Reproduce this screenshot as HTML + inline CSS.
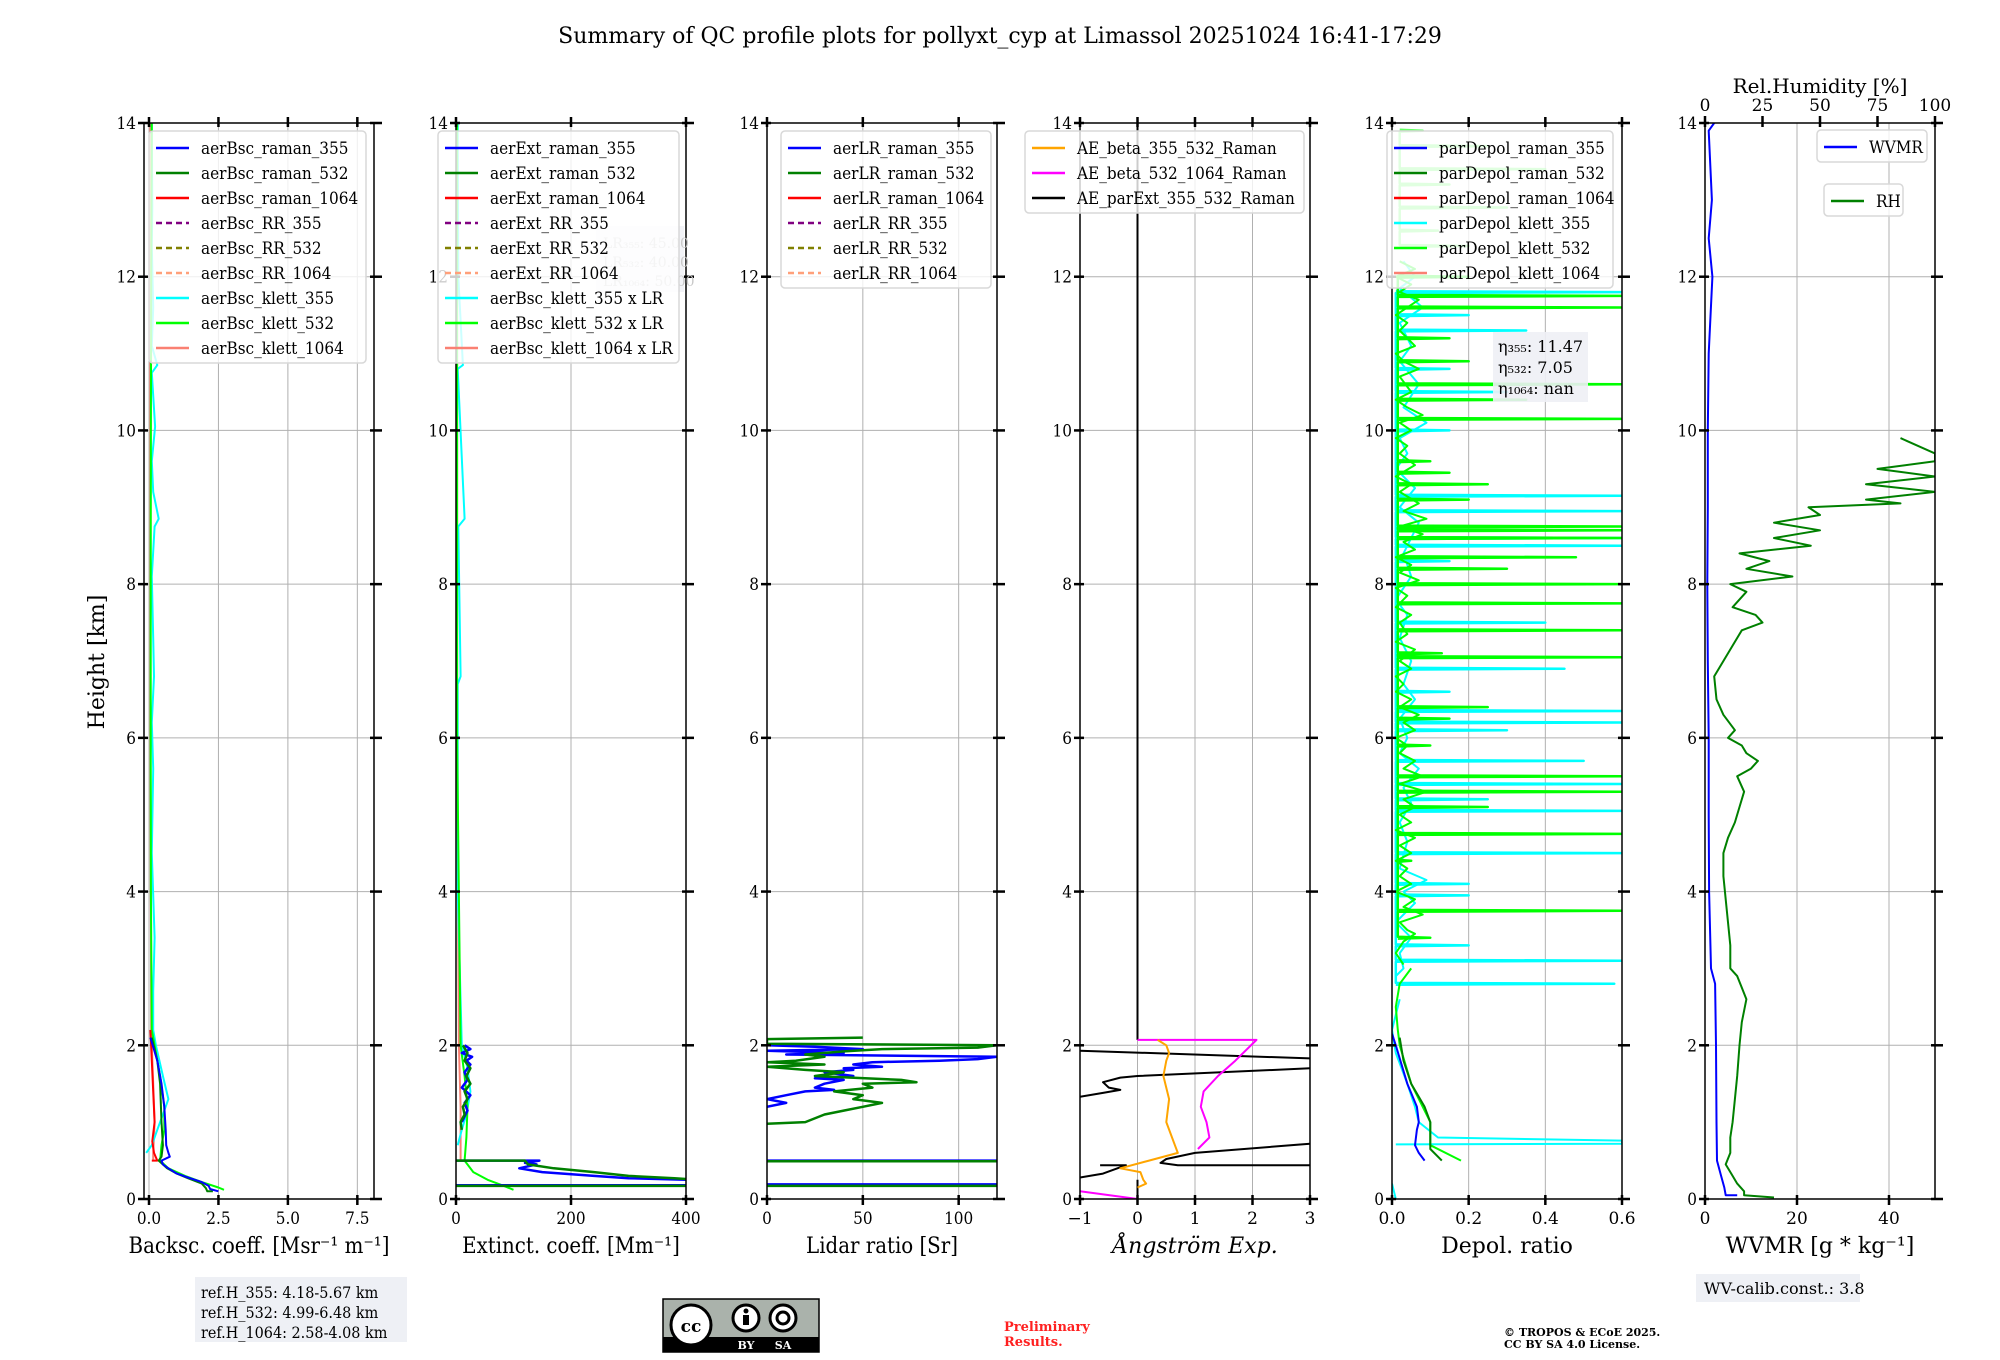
<!DOCTYPE html>
<html><head><meta charset="utf-8"><style>
html,body{margin:0;padding:0;background:#fff;}
svg{display:block;}
text{font-family:"DejaVu Serif","Liberation Serif",serif;}
.c{font-stretch:condensed;}
</style></head><body>
<svg id="fig" width="2000" height="1360" viewBox="0 0 2000 1360" xmlns="http://www.w3.org/2000/svg">
<rect width="2000" height="1360" fill="#fff"/>
<text x="1000" y="43" font-size="22" text-anchor="middle">Summary of QC profile plots for pollyxt_cyp at Limassol 20251024 16:41-17:29</text>
<text x="104" y="662" font-size="22" text-anchor="middle" transform="rotate(-90 104 662)">Height [km]</text>
<g id="plots"></g>
<g>
<rect x="195" y="1277" width="212" height="65" fill="#eef0f5"/>
<text x="201" y="1298" font-size="16" class="c">ref.H_355: 4.18-5.67 km</text>
<text x="201" y="1318" font-size="16" class="c">ref.H_532: 4.99-6.48 km</text>
<text x="201" y="1338" font-size="16" class="c">ref.H_1064: 2.58-4.08 km</text>
</g>
<g>
<rect x="663" y="1299" width="156" height="53" fill="#aab2ab" stroke="#000" stroke-width="1.5"/>
<rect x="663" y="1337" width="156" height="15" fill="#000"/>
<circle cx="691" cy="1325" r="20" fill="#fff" stroke="#000" stroke-width="3"/>
<text x="691" y="1332" font-size="17" font-weight="bold" text-anchor="middle" font-family="Liberation Sans,sans-serif">cc</text>
<circle cx="746" cy="1318" r="13" fill="#fff" stroke="#000" stroke-width="3"/>
<circle cx="746" cy="1311" r="2.5" fill="#000"/><rect x="743" y="1315" width="6" height="10" fill="#000"/>
<circle cx="783" cy="1318" r="13" fill="#fff" stroke="#000" stroke-width="3"/>
<circle cx="783" cy="1318" r="6" fill="none" stroke="#000" stroke-width="3"/>
<text x="746" y="1349" font-size="11" fill="#fff" font-weight="bold" text-anchor="middle" font-family="Liberation Sans,sans-serif">BY</text>
<text x="783" y="1349" font-size="11" fill="#fff" font-weight="bold" text-anchor="middle" font-family="Liberation Sans,sans-serif">SA</text>
</g>
<text x="1004" y="1331" font-size="13" font-weight="bold" fill="#ff2020">Preliminary</text>
<text x="1004" y="1346" font-size="13" font-weight="bold" fill="#ff2020">Results.</text>
<text x="1504" y="1336" font-size="11" font-weight="bold">© TROPOS &amp; ECoE 2025.</text>
<text x="1504" y="1348" font-size="11" font-weight="bold">CC BY SA 4.0 License.</text>
<g>
<rect x="1696" y="1274" width="164" height="28" fill="#eef0f5"/>
<text x="1704" y="1294" font-size="16">WV-calib.const.: 3.8</text>
</g>
</svg>
<script>
// ---------- data ----------
const heightTicks=[0,2,4,6,8,10,12,14];
const bscTicks=["0.0","2.5","5.0","7.5"]; const bscTickVals=[0,2.5,5,7.5];
const extTickVals=[0,200,400];
const lrTickVals=[0,50,100];
const aeTickVals=[-1,0,1,2,3]; const aeTickLabels=["\u22121","0","1","2","3"];
const depTickVals=[0,0.2,0.4,0.6]; const depTickLabels=["0.0","0.2","0.4","0.6"];
const wvTickVals=[0,20,40];
const rhTickVals=[0,25,50,75,100];
// panel 1 backscatter [height km, value]
const bscRaman355=[[2.1,0.05],[1.8,0.3],[1.5,0.45],[1.2,0.55],[0.9,0.6],[0.7,0.62],[0.6,0.7],[0.55,0.75],[0.5,0.45],[0.45,0.5],[0.4,0.7],[0.33,1.0],[0.28,1.4],[0.22,1.9],[0.17,2.15],[0.13,2.2],[0.1,2.5]];
const bscRaman532=[[2.1,0.1],[1.8,0.3],[1.5,0.4],[1.0,0.45],[0.7,0.5],[0.55,0.45],[0.5,0.35],[0.4,0.65],[0.33,1.0],[0.27,1.4],[0.2,1.9],[0.14,2.05],[0.1,2.1],[0.1,2.3]];
const bscRaman1064=[[2.2,0.05],[1.8,0.1],[1.4,0.15],[1.0,0.2],[0.75,0.12],[0.6,0.18],[0.5,0.3],[0.5,0.1]];
const bscKlett355=[[14,0.1],[12.9,0.12],[12.4,0.1],[11.6,0.15],[11.1,0.1],[10.85,0.3],[10.75,0.1],[10.05,0.22],[9.6,0.1],[9.2,0.15],[8.85,0.35],[8.75,0.2],[8.1,0.1],[7.3,0.15],[6.8,0.18],[6.2,0.1],[5.6,0.15],[4.5,0.1],[3.4,0.2],[2.7,0.15],[2.2,0.15],[2.0,0.25],[1.6,0.5],[1.3,0.7],[1.1,0.5],[0.9,0.3],[0.7,0.1],[0.6,-0.1]];
const bscKlett532=[[14,0.1],[12,0.08],[10,0.07],[8,0.06],[6,0.06],[4,0.07],[2.2,0.1],[2.0,0.2],[1.6,0.4],[1.2,0.55],[0.9,0.55],[0.7,0.45],[0.5,0.4],[0.4,0.7],[0.3,1.3],[0.22,1.9],[0.15,2.5],[0.12,2.7]];
const bscKlett1064=[[14,0.05],[10,0.05],[6,0.05],[2.2,0.08],[1.5,0.15],[1.0,0.2],[0.6,0.15],[0.5,0.15]];
// panel 2 extinction
const extRaman355=[[2.0,15],[1.95,25],[1.9,10],[1.85,28],[1.8,18],[1.75,25],[1.65,15],[1.55,20],[1.45,10],[1.35,25],[1.25,15],[1.15,20],[1.0,10],null,[0.5,0],[0.5,145],[0.47,120],[0.45,140],[0.4,110],[0.35,150],[0.3,240],[0.27,300],[0.25,400],null,[0.18,0],[0.18,400]];
const extRaman532=[[2.0,12],[1.9,20],[1.8,15],[1.7,25],[1.6,18],[1.5,25],[1.4,15],[1.3,20],[1.2,12],[1.1,15],[1.0,8],[0.9,10],null,[0.5,0],[0.5,120],[0.45,125],[0.4,170],[0.35,240],[0.3,300],[0.27,380],[0.26,400],null,[0.17,0],[0.17,400]];
const extKlett355=[[14,3],[12,4],[10.85,12],[10.8,3],[8.85,15],[8.75,4],[6.8,8],[6.7,3],[4,3],[2.0,10],[1.7,20],[1.4,25],[1.1,18],[0.9,10],[0.7,3]];
const extKlett532=[[14,2],[10,2],[6,2],[2.0,8],[1.6,15],[1.2,20],[0.8,18],[0.5,15],[0.35,30],[0.25,55],[0.18,80],[0.12,100]];
const extKlett1064=[[14,2],[6,2],[2.0,5],[1.2,8],[0.5,8]];
// panel 3 lidar ratio
const lr355=[[2.0,0],[1.98,25],[1.95,50],[1.93,0],[1.9,40],[1.88,10],[1.85,120],[1.82,110],[1.8,90],[1.78,55],[1.75,45],[1.72,60],[1.7,40],[1.68,45],[1.65,30],[1.6,45],[1.57,25],[1.55,40],[1.5,30],[1.45,25],[1.42,35],[1.4,20],[1.35,10],[1.3,0],[1.25,10],[1.2,0],null,[0.5,0],[0.5,120],null,[0.19,0],[0.19,120]];
const lr532=[[2.1,50],[2.08,0],[2.02,0],[2.0,120],[1.97,110],[1.95,60],[1.92,40],[1.88,20],[1.85,30],[1.8,15],[1.78,0],[1.75,30],[1.72,0],[1.68,20],[1.65,40],[1.6,25],[1.55,70],[1.52,78],[1.5,50],[1.45,55],[1.4,35],[1.35,50],[1.3,45],[1.25,60],[1.2,50],[1.15,40],[1.1,30],[1.0,20],[0.98,0],null,[0.49,0],[0.49,120],null,[0.17,0],[0.17,120]];
// panel 4 Angstrom
const aeParExt=[[14,0],[2.07,0],null,[1.93,-1],[1.83,3],null,[1.7,3],[1.6,0],[1.58,-0.3],[1.52,-0.6],[1.45,-0.5],[1.42,-0.3],[1.38,-0.6],[1.33,-1],null,[0.72,3],[0.6,1],[0.52,0.5],[0.47,0.4],[0.44,0.7],[0.44,3],null,[0.44,-0.65],[0.44,-0.2],[0.4,-0.35],[0.33,-0.6],[0.28,-1],null,[0.25,0],[0.05,0]];
const aeBeta532_1064=[[2.07,0],[2.07,2.07],[1.8,1.7],[1.6,1.4],[1.4,1.15],[1.2,1.1],[1.0,1.2],[0.8,1.25],[0.65,1.05],null,[0.1,-1],[0,0]];
const aeBeta355_532=[[2.07,0.35],[2.0,0.5],[1.9,0.55],[1.8,0.5],[1.6,0.45],[1.3,0.55],[1.0,0.5],[0.7,0.65],[0.6,0.7],[0.5,0.2],[0.4,-0.3],[0.35,0.05],[0.25,0.1],[0.2,0.15],[0.15,0.0]];
// panel 5 depol: spikes [height, value]
const depKlett532Spikes=[[12.0,0.2],[11.75,0.6],[11.6,0.6],[11.2,0.15],[10.9,0.2],[10.6,0.6],[10.4,0.35],[10.15,0.6],[9.6,0.1],[9.45,0.15],[9.3,0.25],[9.1,0.2],[8.75,0.6],[8.7,0.6],[8.6,0.6],[8.35,0.48],[8.2,0.3],[8.0,0.6],[7.75,0.6],[7.4,0.6],[7.1,0.13],[7.05,0.6],[6.4,0.25],[6.25,0.15],[5.9,0.1],[5.5,0.6],[5.3,0.6],[5.1,0.25],[4.75,0.6],[4.4,0.05],[3.75,0.6],[3.4,0.1]];
const depKlett355Spikes=[[11.8,0.6],[11.5,0.2],[11.3,0.35],[10.8,0.15],[10.5,0.3],[10.0,0.15],[9.15,0.6],[8.95,0.6],[8.6,0.6],[8.5,0.6],[8.3,0.15],[7.5,0.4],[6.9,0.45],[6.6,0.15],[6.35,0.6],[6.2,0.6],[6.1,0.3],[5.7,0.5],[5.4,0.6],[5.2,0.25],[5.05,0.6],[4.5,0.6],[4.1,0.2],[3.95,0.2],[3.3,0.2],[3.1,0.6],[2.8,0.58]];
const depTopSpikes=[[13.9,0.08],[13.7,0.25],[13.4,0.4],[13.2,0.15],[12.9,0.3],[12.6,0.12],[12.4,0.2]];
const depKlett532Noise=[[12.2,0.02],[12.1,0.06],[12.0,0.01],[11.9,0.05],[11.8,0.02],[11.7,0.07],[11.5,0.01],[11.4,0.04],[11.3,0.02],[11.1,0.06],[11.0,0.01],[10.9,0.03],[10.8,0.07],[10.7,0.02],[10.5,0.05],[10.4,0.01],[10.3,0.04],[10.2,0.08],[10.1,0.02],[10.0,0.05],[9.9,0.01],[9.8,0.04],[9.7,0.02],[9.55,0.06],[9.4,0.01],[9.3,0.05],[9.2,0.02],[9.05,0.07],[8.95,0.03],[8.85,0.09],[8.75,0.02],[8.65,0.08],[8.55,0.03],[8.45,0.06],[8.35,0.01],[8.25,0.05],[8.15,0.02],[8.05,0.07],[7.95,0.01],[7.85,0.04],[7.7,0.01],[7.6,0.05],[7.5,0.02],[7.35,0.04],[7.25,0.01],[7.15,0.06],[7.0,0.02],[6.9,0.05],[6.8,0.01],[6.7,0.03],[6.6,0.01],[6.5,0.05],[6.4,0.02],[6.3,0.07],[6.2,0.03],[6.1,0.06],[6.0,0.01],[5.9,0.04],[5.8,0.02],[5.7,0.06],[5.6,0.03],[5.5,0.08],[5.4,0.02],[5.3,0.09],[5.2,0.03],[5.1,0.06],[5.0,0.02],[4.9,0.05],[4.8,0.01],[4.7,0.06],[4.6,0.02],[4.5,0.05],[4.4,0.01],[4.3,0.04],[4.2,0.02],[4.1,0.05],[4.0,0.01],[3.9,0.06],[3.8,0.03],[3.7,0.08],[3.6,0.02],[3.5,0.04],[3.45,0.06],[3.35,0.03],[3.2,0.01],[3.05,0.03]];
const depKlett355Noise=[[12.2,0.03],[12.0,0.06],[11.85,0.02],[11.6,0.08],[11.4,0.02],[11.1,0.05],[10.9,0.02],[10.6,0.07],[10.3,0.03],[10.1,0.09],[9.9,0.02],[9.7,0.04],[9.5,0.01],[9.25,0.06],[9.0,0.02],[8.8,0.07],[8.4,0.03],[8.1,0.05],[7.8,0.01],[7.6,0.04],[7.3,0.02],[7.0,0.05],[6.7,0.03],[6.5,0.06],[6.25,0.02],[6.0,0.04],[5.8,0.02],[5.6,0.07],[5.35,0.03],[5.15,0.05],[4.9,0.02],[4.65,0.04],[4.3,0.02],[4.15,0.09],[4.0,0.03],[3.85,0.06],[3.6,0.01],[3.4,0.05],[3.2,0.02],[3.0,0.03],[2.9,0.01]];
const depRaman355=[[2.15,0.0],[2.0,0.01],[1.5,0.04],[1.2,0.065],[1.0,0.07],[0.9,0.065],[0.7,0.06],[0.6,0.07],[0.5,0.085]];
const depRaman532=[[2.1,0.02],[1.8,0.03],[1.5,0.05],[1.2,0.085],[1.0,0.1],[0.8,0.1],[0.65,0.1],[0.5,0.13]];
const depKlett355Low=[[2.6,0.02],[2.2,0.0],[1.9,0.01],[1.5,0.04],[1.2,0.06],[1.0,0.07],[0.8,0.12],[0.76,0.6],[0.72,0.6],[0.71,0.01],null,[0.2,0.0],[0.0,0.01]];
const depKlett532Low=[[3.0,0.05],[2.8,0.02],[2.5,0.01],[2.2,0.015],[2.0,0.02],[1.5,0.05],[1.0,0.1],[0.7,0.1],[0.5,0.18]];
// panel 6 water vapour
const wvmr=[[14,2],[13.9,0.8],[13,1.5],[12.5,0.8],[12,1.6],[11,0.8],[10,0.6],[9,0.6],[8,0.5],[7,0.6],[6,0.8],[5,0.8],[4,0.9],[3,1.3],[2.8,2.2],[2,2.4],[1,2.5],[0.5,2.6],[0.3,3.5],[0.15,4.2],[0.05,4.5],[0.05,7]];
const rh=[[0.02,30],[0.05,17],[0.1,17],[0.2,14],[0.3,12],[0.45,9],[0.6,11],[0.8,11],[1.0,12],[1.3,13],[1.6,14],[2.0,15],[2.3,16],[2.6,18],[2.75,16],[2.9,14],[3.0,11],[3.3,11],[3.6,10],[3.9,9],[4.2,8],[4.5,8],[4.7,10],[4.9,13],[5.1,15],[5.3,17],[5.5,14],[5.6,20],[5.7,23],[5.8,18],[5.9,16],[6.0,10],[6.1,13],[6.3,8],[6.5,5],[6.8,4],[7.0,8],[7.2,12],[7.4,16],[7.5,25],[7.6,22],[7.7,12],[7.9,18],[8.0,11],[8.1,38],[8.2,18],[8.3,28],[8.4,15],[8.5,46],[8.6,30],[8.7,50],[8.8,30],[8.9,50],[9.0,45],[9.05,85],[9.1,70],[9.2,100],[9.3,70],[9.4,100],[9.5,75],[9.6,100],[9.7,100],[9.9,85]];

// ---------- drawing ----------
const NS="http://www.w3.org/2000/svg";
const root=document.getElementById('plots');
const Y0=1199, PXKM=(1199-123)/14, W=230;
function py(h){return Y0-h*PXKM;}
function mk(tag,attrs,parent){const e=document.createElementNS(NS,tag);for(const k in attrs)e.setAttribute(k,attrs[k]);(parent||root).appendChild(e);return e;}
const panels=[
 {name:'backscatter',x:144,min:-0.18,max:8.1,tv:bscTickVals,tl:bscTicks,label:'Backsc. coeff. [Msr\u207B\u00B9 m\u207B\u00B9]'},
 {name:'extinction',x:456,min:0,max:400,tv:extTickVals,tl:extTickVals.map(String),label:'Extinct. coeff. [Mm\u207B\u00B9]'},
 {name:'lidar-ratio',x:767,min:0,max:120,tv:lrTickVals,tl:lrTickVals.map(String),label:'Lidar ratio [Sr]'},
 {name:'angstrom',x:1080,min:-1,max:3,tv:aeTickVals,tl:aeTickLabels,label:'\u00C5ngstr\u00F6m Exp.',italic:true},
 {name:'depol',x:1392,min:0,max:0.6,tv:depTickVals,tl:depTickLabels,label:'Depol. ratio'},
 {name:'wvmr',x:1705,min:0,max:50,tv:wvTickVals,tl:wvTickVals.map(String),label:'WVMR [g * kg\u207B\u00B9]'}
];
function px(p,v){return p.x+(v-p.min)/(p.max-p.min)*W;}
panels.forEach((p,i)=>{
  const g=mk('g',{});
  
  
  p.g=g;
  const cp=mk('clipPath',{id:'clip'+i},g);
  mk('rect',{x:p.x,y:123,width:W,height:Y0-123},cp);
  heightTicks.forEach(h=>{const l=mk('line',{x1:p.x,x2:p.x+W,y1:py(h),y2:py(h),stroke:'#b0b0b0','stroke-width':1},g);});
  p.tv.forEach(v=>{const l=mk('line',{x1:px(p,v),x2:px(p,v),y1:123,y2:Y0,stroke:'#b0b0b0','stroke-width':1},g);});
  p.plot=mk('g',{'clip-path':'url(#clip'+i+')'},g);
});
function line(pi,data,color,name,opts){
  const p=panels[pi];opts=opts||{};
  let d='',start=true;
  data.forEach(pt=>{if(pt===null){start=true;return;}d+=(start?'M':'L')+px(p,pt[1]).toFixed(1)+' '+py(pt[0]).toFixed(1);start=false;});
  const e=mk('path',{d:d,fill:'none',stroke:color,'stroke-width':opts.w||2,'stroke-opacity':opts.op||1,'stroke-linejoin':'round'},p.plot);
  
  
}
function spikes(pi,list,base,color,name,op){
  const pts=[];
  list.slice().sort((a,b)=>b[0]-a[0]).forEach(s=>{pts.push([s[0]+0.012,base]);pts.push([s[0],s[1]]);pts.push([s[0]-0.012,base]);});
  line(pi,pts,color,name,{w:2.5,op:op||1});
}
// panel 1
line(0,bscKlett1064,'#fa8072','aerBsc-klett-1064-line');
line(0,bscKlett355,'#00ffff','aerBsc-klett-355-line');
line(0,bscKlett532,'#00ff00','aerBsc-klett-532-line');
line(0,bscRaman1064,'#ff0000','aerBsc-raman-1064-line');
line(0,bscRaman532,'#008000','aerBsc-raman-532-line');
line(0,bscRaman355,'#0000ff','aerBsc-raman-355-line');
// panel 2
line(1,extKlett1064,'#fa8072','aerExt-klett-1064-line');
line(1,extKlett355,'#00ffff','aerExt-klett-355-line');
line(1,extKlett532,'#00ff00','aerExt-klett-532-line');
line(1,extRaman355,'#0000ff','aerExt-raman-355-line',{w:2.5});
line(1,extRaman532,'#008000','aerExt-raman-532-line',{w:2.5});
// panel 3
line(2,lr355,'#0000ff','aerLR-raman-355-line',{w:2.5});
line(2,lr532,'#008000','aerLR-raman-532-line',{w:2.5});
// panel 4
line(3,aeParExt,'#000000','AE-parExt-355-532-line');
line(3,aeBeta532_1064,'#ff00ff','AE-beta-532-1064-line');
line(3,aeBeta355_532,'#ffa500','AE-beta-355-532-line');
// panel 5
spikes(4,depTopSpikes,0.02,'#00ff00','parDepol-klett-532-upper',0.6);
line(4,depKlett355Noise,'#00ffff','parDepol-klett-355-noise');
spikes(4,depKlett355Spikes,0.01,'#00ffff','parDepol-klett-355-spikes');
line(4,depKlett532Noise,'#00ff00','parDepol-klett-532-noise');
spikes(4,depKlett532Spikes,0.015,'#00ff00','parDepol-klett-532-spikes');
line(4,depKlett355Low,'#00ffff','parDepol-klett-355-low');
line(4,depKlett532Low,'#00ff00','parDepol-klett-532-low');
line(4,depRaman355,'#0000ff','parDepol-raman-355-line');
line(4,depRaman532,'#008000','parDepol-raman-532-line');
// panel 6
line(5,wvmr,'#0000ff','wvmr-line');
line(5,rh.map(r=>[r[0],r[1]*0.5]),'#008000','rh-line');

// axes / ticks / labels
panels.forEach((p,i)=>{
  const g=p.g;
  const fr=mk('rect',{x:p.x,y:123,width:W,height:Y0-123,fill:'none',stroke:'#000','stroke-width':1.5},g);
  
  heightTicks.forEach(h=>{
    mk('line',{x1:p.x-6,x2:p.x+4,y1:py(h),y2:py(h),stroke:'#000','stroke-width':2.5},g);
    mk('line',{x1:p.x+W-4,x2:p.x+W+8,y1:py(h),y2:py(h),stroke:'#000','stroke-width':2.5},g);
    const t=mk('text',{x:p.x-8,y:py(h)+6,'font-size':17,'text-anchor':'end',class:'c'},g);
    t.textContent=String(h);
    
  });
  p.tv.forEach((v,j)=>{
    mk('line',{x1:px(p,v),x2:px(p,v),y1:Y0-4,y2:Y0+6,stroke:'#000','stroke-width':2.5},g);
    if(i<5) mk('line',{x1:px(p,v),x2:px(p,v),y1:117,y2:127,stroke:'#000','stroke-width':2.5},g);
    const t=mk('text',{x:px(p,v),y:Y0+25,'font-size':17,'text-anchor':'middle',class:i<3?'c':''},g);
    t.textContent=p.tl[j];
    
  });
  const xl=mk('text',{x:p.x+W/2,y:1253,'font-size':22,'text-anchor':'middle',class:i<3?'c':''},g);
  if(p.italic) xl.setAttribute('font-style','italic');
  xl.textContent=p.label;
  
});
// RH top axis
{const p=panels[5];const g=p.g;
 rhTickVals.forEach(v=>{const x=p.x+v/100*W;mk('line',{x1:x,x2:x,y1:116,y2:127,stroke:'#000','stroke-width':2.5},g);
  const t=mk('text',{x:x,y:111,'font-size':17,'text-anchor':'middle'},g);t.textContent=String(v);
  });
 const t=mk('text',{x:p.x+W/2,y:93,'font-size':20,'text-anchor':'middle'},g);t.textContent='Rel.Humidity [%]';
 }

// legends
function legend(x,y,w,entries,name,cls){
  const g=mk('g',{});
  
  
  mk('rect',{x:x,y:y,width:w,height:entries.length*25+7,rx:4,fill:'rgba(255,255,255,0.8)',stroke:'#d8d8d8','stroke-width':1.5},g);
  entries.forEach((e,k)=>{
    const yy=y+17+k*25;
    mk('line',{x1:x+7,x2:x+40,y1:yy,y2:yy,stroke:e[1],'stroke-width':2.5,'stroke-dasharray':e[2]?'6 4':'none'},g);
    const t=mk('text',{x:x+52,y:yy+6,'font-size':17,class:cls||'c'},g);t.textContent=e[0];
    
  });
}
{const g=panels[1].g;mk('rect',{x:596,y:226,width:88,height:66,fill:'#f2f3f7'},g);
 ['LR\u2083\u2085\u2085: 45.00','LR\u2085\u2083\u2082: 40.00','LR\u2081\u2080\u2086\u2084: 50.00'].forEach((s,k)=>{const t=mk('text',{x:603,y:248+k*19,'font-size':14,fill:'#c8c8c8'},g);t.textContent=s;});}
legend(149,131,217,[['aerBsc_raman_355','#0000ff'],['aerBsc_raman_532','#008000'],['aerBsc_raman_1064','#ff0000'],['aerBsc_RR_355','#800080',1],['aerBsc_RR_532','#808000',1],['aerBsc_RR_1064','#ffa07a',1],['aerBsc_klett_355','#00ffff'],['aerBsc_klett_532','#00ff00'],['aerBsc_klett_1064','#fa8072']],'bsc-legend');
legend(438,131,241,[['aerExt_raman_355','#0000ff'],['aerExt_raman_532','#008000'],['aerExt_raman_1064','#ff0000'],['aerExt_RR_355','#800080',1],['aerExt_RR_532','#808000',1],['aerExt_RR_1064','#ffa07a',1],['aerBsc_klett_355 x LR','#00ffff'],['aerBsc_klett_532 x LR','#00ff00'],['aerBsc_klett_1064 x LR','#fa8072']],'ext-legend');
legend(781,131,210,[['aerLR_raman_355','#0000ff'],['aerLR_raman_532','#008000'],['aerLR_raman_1064','#ff0000'],['aerLR_RR_355','#800080',1],['aerLR_RR_532','#808000',1],['aerLR_RR_1064','#ffa07a',1]],'lr-legend');
legend(1025,131,279,[['AE_beta_355_532_Raman','#ffa500'],['AE_beta_532_1064_Raman','#ff00ff'],['AE_parExt_355_532_Raman','#000000']],'ae-legend');
legend(1387,131,226,[['parDepol_raman_355','#0000ff'],['parDepol_raman_532','#008000'],['parDepol_raman_1064','#ff0000'],['parDepol_klett_355','#00ffff'],['parDepol_klett_532','#00ff00'],['parDepol_klett_1064','#fa8072']],'depol-legend');
legend(1817,130,110,[['WVMR','#0000ff']],'wvmr-legend','');
legend(1824,184,79,[['RH','#008000']],'rh-legend','');
{const g=panels[4].g;mk('rect',{x:1493,y:332,width:95,height:70,fill:'rgba(238,240,245,0.9)'},g);
 ['\u03B7\u2083\u2085\u2085: 11.47','\u03B7\u2085\u2083\u2082: 7.05','\u03B7\u2081\u2080\u2086\u2084: nan'].forEach((s,k)=>{const t=mk('text',{x:1498,y:352+k*21,'font-size':16},g);t.textContent=s;});}
</script>
</body></html>
